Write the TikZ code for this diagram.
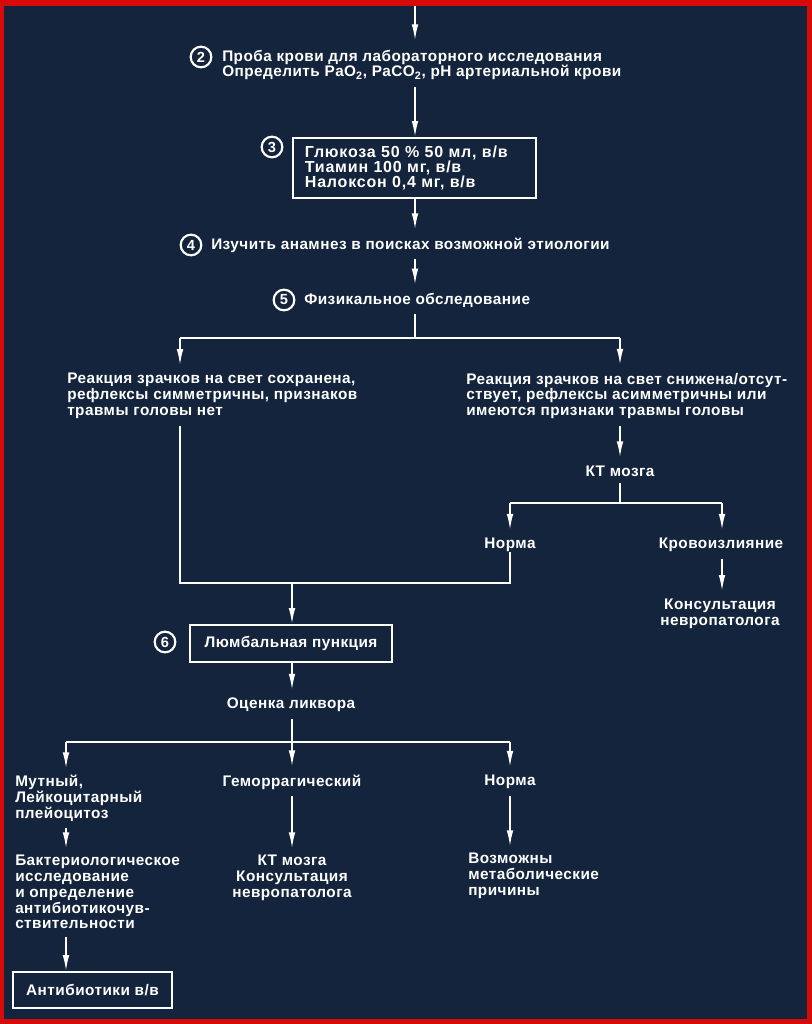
\documentclass[tikz,border=0pt]{standalone}
\usepackage{fontspec}
\setmainfont{Liberation Sans}[LetterSpace=3]
\usetikzlibrary{arrows.meta,calc}
\definecolor{bg}{RGB}{20,36,61}
\definecolor{framec}{RGB}{215,10,10}
\begin{document}
\begin{tikzpicture}[x=0.75pt,y=-0.75pt,
  every node/.style={text=white, inner sep=0pt, font=\fontsize{11.5}{11.8}\selectfont\bfseries},
  txt/.style={align=left},
  ctxt/.style={align=center},
  num/.style={circle, draw=white, line width=1.6pt, minimum size=15.5pt, font=\fontsize{11}{11}\selectfont\bfseries},
  boxn/.style={draw=white, line width=1.4pt},
  ln/.style={draw=white, line width=1.3pt},
  arr/.style={ln, -{Latex[length=12pt,width=5pt]}},
]
\fill[framec] (0,0) rectangle (812,1024);
\fill[bg] (4,6) rectangle (807,1019);
\useasboundingbox (0,0) rectangle (812,1024);

% spine coordinates
\coordinate (top) at (415,6);

% step 2
\node[num] (n2) at (201,57) {2};
\node[txt, anchor=west] (t2) at (222,65) {Проба крови для лабораторного исследования\\Определить PaO\textsubscript{2}, PaCO\textsubscript{2}, pH артериальной крови};
\draw[arr, shorten >=7pt] (top) -- (top |- t2.north);

% step 3
\node[boxn, anchor=north west, inner xsep=9pt, text width=164pt, minimum height=45pt, align=left, font=\fontsize{12}{11.3}\selectfont\bfseries\addfontfeature{LetterSpace=5}] (b3) at (292,137) {Глюкоза 50 \% 50 мл, в/в\\Тиамин 100 мг, в/в\\Налоксон 0,4 мг, в/в};
\node[num] (n3) at (272,147) {3};
\draw[arr, shorten <=5pt] (t2.south -| top) -- (b3.north -| top);

% step 4
\node[num] (n4) at (191,245) {4};
\node[txt, anchor=west] (t4) at (211,245) {Изучить анамнез в поисках возможной этиологии};
\draw[arr, shorten >=6pt] (b3.south -| top) -- (t4.north -| top);

% step 5
\node[num] (n5) at (284,300) {5};
\node[txt, anchor=west] (t5) at (304,300) {Физикальное обследование};
\draw[arr, shorten <=5pt, shorten >=6pt] (t4.south -| top) -- (t5.north -| top);

% branch 1
\coordinate (br1) at (415,338);
\coordinate (brL) at (180,338);
\coordinate (brR) at (620,338);
\node[txt, anchor=west] (tL) at (67,396) {Реакция зрачков на свет сохранена,\\рефлексы симметричны, признаков\\травмы головы нет};
\node[txt, anchor=west] (tR) at (466,396) {Реакция зрачков на свет снижена/отсут-\\ствует, рефлексы асимметричны или\\имеются признаки травмы головы};
\draw[ln, shorten <=5pt] (t5.south -| top) -- (br1);
\draw[ln] (brL) -- (brR);
\draw[arr, shorten >=6pt] (brL) -- (brL |- tL.north);
\draw[arr, shorten >=6pt] (brR) -- (brR |- tR.north);

% right side
\node[ctxt] (kt1) at (620,471) {КТ мозга};
\draw[arr, shorten <=5pt, shorten >=6pt] (tR.south -| brR) -- (kt1.north);
\coordinate (br2) at (620,503);
\coordinate (br2L) at (510,503);
\coordinate (br2R) at (722,503);
\node[ctxt] (norm1) at (510,545) {Норма};
\node[ctxt] (krov) at (721,545) {Кровоизлияние};
\draw[ln, shorten <=5pt] (kt1.south) -- (br2);
\draw[ln] (br2L) -- (br2R);
\draw[arr, shorten >=6pt] (br2L) -- (br2L |- norm1.north);
\draw[arr, shorten >=6pt] (br2R) -- (br2R |- krov.north);
\node[ctxt] (kons1) at (720,614) {Консультация\\невропатолога};
\draw[arr, shorten <=5pt, shorten >=6pt] (krov.south -| br2R) -- (kons1.north -| br2R);

% join
\coordinate (jL) at (180,583);
\coordinate (jR) at (510,583);
\coordinate (jM) at (292,583);
\draw[ln, shorten <=5pt] (tL.south -| brL) -- (jL) -- (jR) -- (norm1.south -| jR);

% step 6
\node[boxn, minimum width=151.5pt, minimum height=27.75pt] (b6) at (291,643.5) {Люмбальная пункция};
\node[num] (n6) at (165,642) {6};
\draw[arr] (jM) -- (b6.north -| jM);

\node[ctxt] (ocen) at (291,705) {Оценка ликвора};
\draw[arr, shorten >=6pt] (b6.south -| jM) -- (ocen.north -| jM);

% branch 3
\coordinate (br3) at (292,742);
\coordinate (br3L) at (66,742);
\coordinate (br3R) at (510,742);
\draw[ln, shorten <=5pt] (ocen.south -| br3) -- (br3);
\draw[ln] (br3L) -- (br3R);
\node[txt, anchor=north west] (mut) at (15,775) {Мутный,\\Лейкоцитарный\\плейоцитоз};
\node[ctxt] (gem) at (292,782) {Геморрагический};
\node[ctxt] (norm2) at (510,782) {Норма};
\draw[arr, shorten >=5pt] (br3L) -- (br3L |- mut.north);
\draw[arr, shorten >=6pt] (br3) -- (gem.north);
\draw[arr, shorten >=6pt] (br3R) -- (norm2.north);

\node[txt, anchor=north west] (bakt) at (15,855) {Бактериологическое\\исследование\\и определение\\антибиотикочув-\\ствительности};
\node[ctxt, anchor=north] (kt2) at (292,855) {КТ мозга\\Консультация\\невропатолога};
\node[txt, anchor=north west] (vozm) at (468,853) {Возможны\\метаболические\\причины};
\draw[arr, shorten <=5pt, shorten >=5pt] (mut.south -| br3L) -- (bakt.north -| br3L);
\draw[arr, shorten <=5pt, shorten >=5pt] (gem.south) -- (kt2.north);
\draw[arr, shorten <=5pt, shorten >=5pt] (norm2.south) -- (vozm.north -| br3R);

\node[boxn, minimum width=119.25pt, minimum height=27pt] (ab) at (92.5,990) {Антибиотики в/в};
\draw[arr, shorten <=6pt] (bakt.south -| br3L) -- (ab.north -| br3L);
\end{tikzpicture}
\end{document}
